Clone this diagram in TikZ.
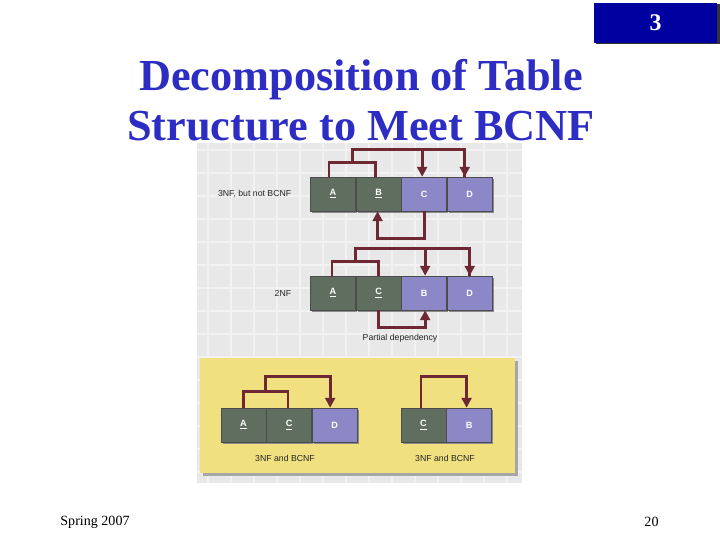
\documentclass[tikz,border=0pt]{standalone}
\usepackage{fontspec}
\setmainfont{Liberation Serif}
\setsansfont{Liberation Sans}
\usetikzlibrary{arrows.meta,positioning,calc,shadows}
\definecolor{titleblue}{RGB}{45,45,195}
\definecolor{numblue}{RGB}{0,0,160}
\definecolor{keygreen}{RGB}{96,110,96}
\definecolor{attrlav}{RGB}{140,136,200}
\definecolor{deparrow}{RGB}{110,40,52}
\definecolor{paperyellow}{RGB}{240,224,128}
\definecolor{gridgray}{RGB}{232,232,232}
\tikzset{
  cell/.style={minimum width=1.125cm, minimum height=0.85cm, inner sep=0pt,
    text=white, font=\sffamily\bfseries\fontsize{6.5}{7}\selectfont, draw=black!70, line width=0.4pt,
    drop shadow={shadow xshift=1.2pt, shadow yshift=-1.2pt, fill=black!45, opacity=1}},
  keycell/.style={cell, fill=keygreen},
  attrcell/.style={cell, fill=attrlav},
  dep/.style={draw=deparrow, line width=2pt, -{Triangle[length=7pt,width=7pt]}},
  depline/.style={draw=deparrow, line width=2pt},
  tag/.style={font=\sffamily\fontsize{6.2}{7}\selectfont, text=black!85},
}
\newcommand{\ukey}[1]{\underline{#1}}
\begin{document}
\begin{tikzpicture}[x=0.025cm,y=-0.025cm]
    \useasboundingbox[fill=white] (0,0) rectangle (720,540);

    % Slide number box
    \fill[black!80] (596,4) rectangle (720,44);
    \node[fill=numblue, minimum width=3.05cm, minimum height=0.98cm, inner sep=0pt,
      text=white, font=\bfseries\fontsize{17}{20}\selectfont] (num) at (655.5,23) {3};

    % Diagram background with grid
    \fill[gridgray] (197,143) rectangle (522,483);
    \foreach \gx in {208,231,...,522} \draw[white!45!gridgray, line width=0.8pt] (\gx,143) -- (\gx,483);
    \foreach \gy in {150,173,...,483} \draw[white!45!gridgray, line width=0.8pt] (197,\gy) -- (522,\gy);

    % Title
    \node[text=titleblue, font=\bfseries\fontsize{31.5}{35.5}\selectfont, align=center] (title)
      at (361,100) {Decomposition of Table\\Structure to Meet BCNF};

    % Yellow panel
    \fill[black!35] (203,361) rectangle (518,476);
    \fill[paperyellow] (200,358) rectangle (515,473);

    % Row 1: 3NF, but not BCNF
    \node[keycell] (ra) at (333,194) {\ukey{A}};
    \node[keycell, right=0pt of ra] (rb) {\ukey{B}};
    \node[attrcell, right=0pt of rb] (rc) {C};
    \node[attrcell, right=0pt of rc] (rd) {D};
    \node[tag, left=10pt of ra] (rlab) {3NF, but not BCNF};
    \coordinate (ra1) at ($(ra.north)+(-4,0)$);
    \coordinate (rb1) at ($(rb.north)+(-3,0)$);
    \coordinate (rc1) at ($(rc.north)+(-2,0)$);
    \coordinate (rd1) at ($(rd.north)+(-5,0)$);
    \coordinate (rb2) at ($(rb.south)+(-1,0)$);

    \draw[depline] (ra1) -- ++(0,-14) -| (rb1);
    \coordinate (rjoin) at ($(ra1)!0.5!(rb1)+(0,-14)$);
    \draw[depline] (rjoin) -- ++(0,-13) coordinate (rtop) -| (rd1);
    \draw[dep] (rtop -| rc1) -- (rc1);
    \draw[dep] (rtop -| rd1) -- (rd1);
    \draw[dep] (rc.south) -- ++(0,27) -| (rb2);

    % Row 2: 2NF
    \node[keycell] (sa) at (333,293) {\ukey{A}};
    \node[keycell, right=0pt of sa] (sc) {\ukey{C}};
    \node[attrcell, right=0pt of sc] (sb) {B};
    \node[attrcell, right=0pt of sb] (sd) {D};
    \node[tag, left=10pt of sa] (slab) {2NF};
    \coordinate (sa1) at ($(sa.north)+(-1,0)$);
    \coordinate (sb1) at ($(sb.north)+(1,0)$);
    \coordinate (sb2) at ($(sb.south)+(1,0)$);

    \draw[depline] (sa1) -- ++(0,-14) -| (sc.north);
    \coordinate (sjoin) at ($(sa1)!0.5!(sc.north)+(0,-14)$);
    \draw[depline] (sjoin) -- ++(0,-13) coordinate (stop) -| (sd.north);
    \draw[dep] (stop -| sb1) -- (sb1);
    \draw[dep] (stop -| sd.north) -- (sd.north);
    \draw[dep] (sc.south) -- ++(0,17) -| (sb2);
    \node[tag] (plab) at (400,338) {Partial dependency};

    % Bottom left: A C D
    \node[keycell] (ta) at (243.5,425) {\ukey{A}};
    \node[keycell, right=0pt of ta] (tc) {\ukey{C}};
    \node[attrcell, right=0pt of tc] (td) {D};
    \node[tag] (tlab) at (285,458) {3NF and BCNF};
    \coordinate (tc1) at ($(tc.north)+(-1,0)$);
    \coordinate (td1) at ($(td.north)+(-4.5,0)$);

    \draw[depline] (ta.north) -- ++(0,-16) -| (tc1);
    \coordinate (tjoin) at ($(ta.north)!0.5!(tc1)+(0,-16)$);
    \draw[dep] (tjoin) -- ++(0,-15) -| (td1);

    % Bottom right: C B
    \node[keycell] (uc) at (423.5,425) {\ukey{C}};
    \node[attrcell, right=0pt of uc] (ub) {B};
    \node[tag] (ulab) at (445,458) {3NF and BCNF};
    \coordinate (uc1) at ($(uc.north)+(-2.5,0)$);
    \coordinate (ub1) at ($(ub.north)+(-2.5,0)$);

    \draw[dep] (uc1) -- ++(0,-31) -| (ub1);

    % Footer
    \node[font=\fontsize{10}{12}\selectfont] (spring) at (95,522) {Spring 2007};
    \node[font=\fontsize{10}{12}\selectfont] (page) at (651.5,522) {20};
\end{tikzpicture}
\end{document}
